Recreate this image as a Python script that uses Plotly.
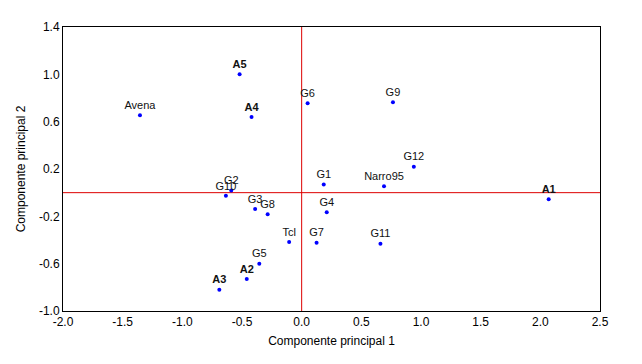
import plotly.graph_objects as go

# Environments (bold labels)
env_names = ["A1", "A2", "A3", "A4", "A5"]
env_pc1 = [2.07, -0.46, -0.69, -0.42, -0.52]
env_pc2 = [-0.055, -0.73, -0.82, 0.64, 1.0]

# Genotypes
gen_names = ["Avena", "G6", "G9", "G12", "G1", "Narro95", "G4", "G7", "G11",
             "G2", "G10", "G3", "G8", "Tcl", "G5"]
gen_pc1 = [-1.355, 0.05, 0.765, 0.94, 0.185, 0.69, 0.21, 0.125, 0.66,
           -0.59, -0.635, -0.39, -0.285, -0.105, -0.355]
gen_pc2 = [0.655, 0.755, 0.765, 0.22, 0.068, 0.054, -0.166, -0.423, -0.431,
           0.018, -0.027, -0.138, -0.183, -0.417, -0.6]

x_ticks = [-2.0, -1.5, -1.0, -0.5, 0.0, 0.5, 1.0, 1.5, 2.0, 2.5]
y_ticks = [-1.0, -0.6, -0.2, 0.2, 0.6, 1.0, 1.4]

FONT = "Arial, Liberation Sans, sans-serif"

fig = go.Figure()
fig.add_trace(go.Scatter(
    x=gen_pc1, y=gen_pc2, mode="markers+text", text=gen_names,
    textposition="top center",
    textfont=dict(family=FONT, size=11, color="#111111"),
    marker=dict(color="#0000ff", size=4, symbol="circle"),
    showlegend=False, cliponaxis=False,
))
fig.add_trace(go.Scatter(
    x=env_pc1, y=env_pc2, mode="markers+text",
    text=["<b>%s</b>" % n for n in env_names],
    textposition="top center",
    textfont=dict(family=FONT, size=11, color="#111111"),
    marker=dict(color="#0000ff", size=4, symbol="circle"),
    showlegend=False, cliponaxis=False,
))

# reference lines through the origin
fig.add_shape(type="line", xref="x", yref="paper", x0=0, x1=0, y0=0, y1=1,
              line=dict(color="#dd0000", width=1), layer="below")
fig.add_shape(type="line", xref="paper", yref="y", x0=0, x1=1, y0=0, y1=0,
              line=dict(color="#dd0000", width=1), layer="below")

fig.update_layout(
    width=634, height=356,
    margin=dict(l=55, r=42, t=16, b=53),
    paper_bgcolor="white", plot_bgcolor="white",
    font=dict(family=FONT, size=12, color="#000000"),
)
fig.update_xaxes(
    range=[-2.0, 2.5], tickvals=x_ticks,
    ticktext=["%.1f" % v for v in x_ticks],
    showgrid=False, zeroline=False,
    showline=True, linecolor="black", linewidth=1, mirror=True,
    ticks="", tickfont=dict(size=12),
    title=dict(text="Componente principal 1", font=dict(size=12), standoff=8),
)
fig.update_yaxes(
    range=[-1.0, 1.4], tickvals=y_ticks,
    ticktext=["%.1f" % v for v in y_ticks],
    showgrid=False, zeroline=False,
    showline=True, linecolor="black", linewidth=1, mirror=True,
    ticks="", tickfont=dict(size=12),
    title=dict(text="Componente principal 2", font=dict(size=12), standoff=10),
)

fig.write_html("out.html")
